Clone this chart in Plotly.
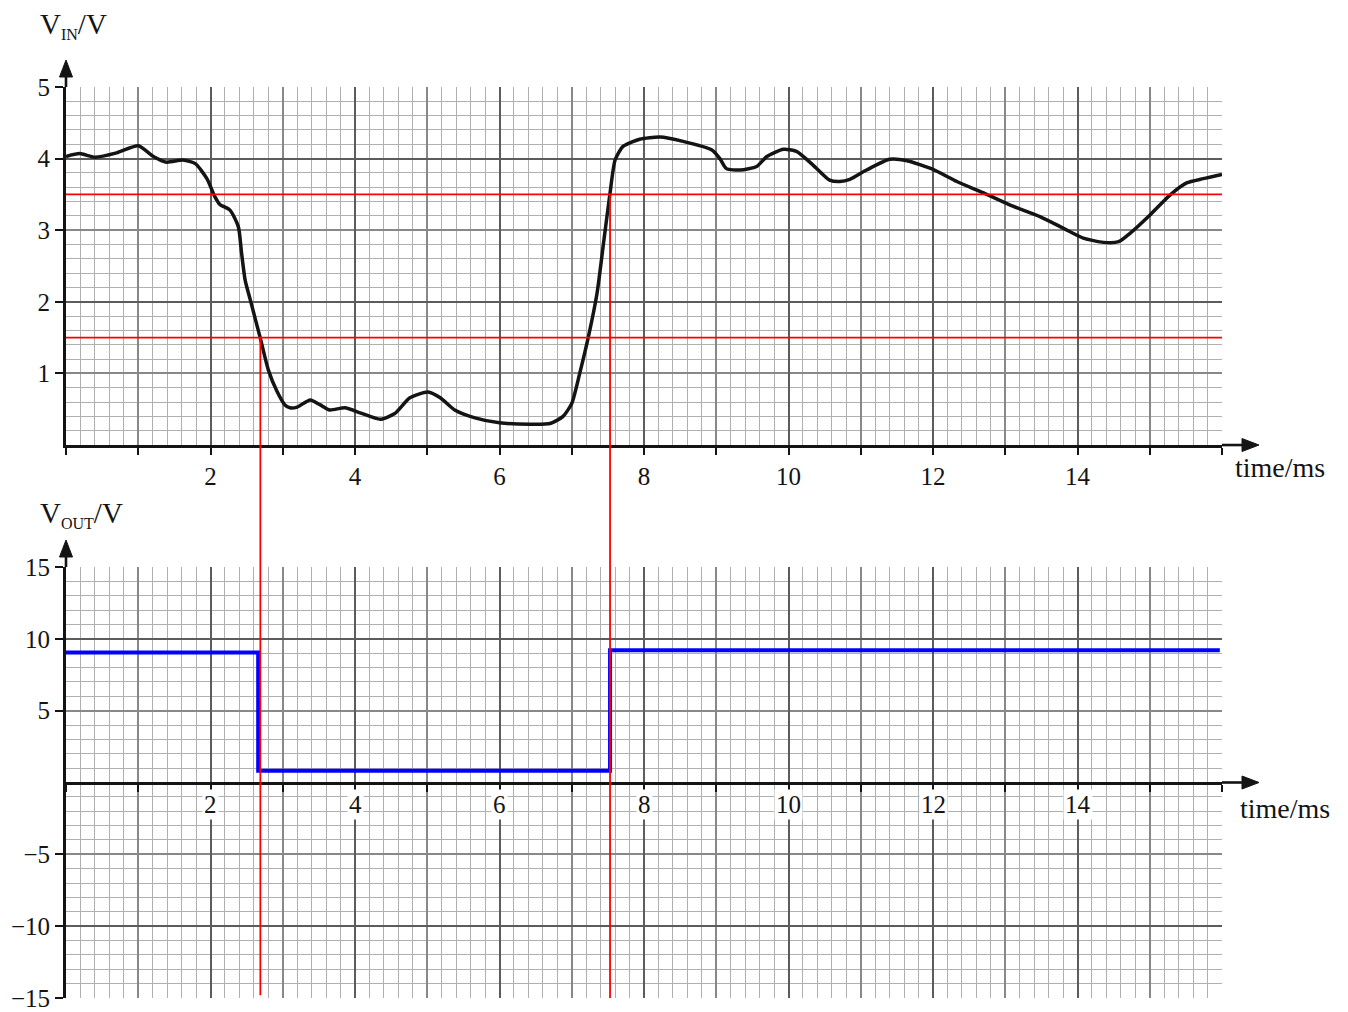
import plotly.graph_objects as go

# ---------------- data ----------------
t_in = [0, 0.19, 0.40, 0.70, 1.00, 1.21, 1.39, 1.62, 1.79, 1.95, 2.06, 2.13, 2.27, 2.385,
        2.43, 2.48, 2.55, 2.685, 2.80, 2.92, 3.03, 3.10, 3.20, 3.38, 3.52, 3.65, 3.86, 4.07,
        4.35, 4.55, 4.76, 5.01, 5.18, 5.38, 5.66, 6.00, 6.42, 6.70, 6.88, 7.00, 7.11, 7.23,
        7.35, 7.44, 7.53, 7.60, 7.71, 7.94, 8.22, 8.54, 8.94, 9.05, 9.14, 9.33, 9.56, 9.70,
        9.93, 10.11, 10.34, 10.57, 10.71, 10.85, 11.08, 11.40, 11.64, 12.00, 12.33, 12.70,
        13.07, 13.48, 13.80, 14.08, 14.36, 14.57, 14.73, 15.00, 15.28, 15.51, 15.74, 16.00]
v_in = [4.03, 4.07, 4.02, 4.08, 4.18, 4.03, 3.95, 3.98, 3.93, 3.72, 3.47, 3.36, 3.28, 3.05,
        2.68, 2.30, 2.03, 1.51, 1.05, 0.75, 0.56, 0.52, 0.53, 0.63, 0.56, 0.49, 0.52, 0.45,
        0.36, 0.44, 0.66, 0.74, 0.66, 0.49, 0.38, 0.31, 0.29, 0.30, 0.40, 0.58, 1.00, 1.51,
        2.12, 2.82, 3.52, 3.98, 4.17, 4.27, 4.30, 4.24, 4.12, 4.00, 3.86, 3.84, 3.89, 4.03,
        4.13, 4.10, 3.91, 3.70, 3.68, 3.71, 3.84, 3.99, 3.97, 3.85, 3.68, 3.52,
        3.35, 3.19, 3.03, 2.89, 2.83, 2.84, 2.96, 3.21, 3.49, 3.66, 3.72, 3.78]

t_out = [0, 2.66, 7.53, 15.97]
v_out = [9.05, 0.82, 9.2, 9.2]

thresholds = [3.5, 1.5]          # red horizontal lines (V)
threshold_span = [0, 16]         # ms
switch_times = [2.69, 7.53]      # red vertical lines (ms)
switch_top = [1.5, 3.5]          # top end of each red vertical (VIN, V)
switch_bottom = [-14.8, -15.0]   # bottom end of each red vertical (VOUT, V)

x_range = [0, 16]
vin_range = [0, 5]
vout_range = [-15, 15]
x_ticks = list(range(0, 17))
x_labels = [str(v) if (v % 2 == 0 and 0 < v < 16) else "" for v in x_ticks]
vin_ticks = [1, 2, 3, 4, 5]
vout_ticks = [-15, -10, -5, 5, 10, 15]
vout_labels = ["\u221215", "\u221210", "\u22125", "5", "10", "15"]

# ---------------- layout constants ----------------
W, H = 1348, 1012
ML, MR, MT, MB = 66, 126, 87, 14
top_dom = [0.607, 1.0]
bot_dom = [0.0, 0.4731]
PLOT_W, PLOT_H = W - ML - MR, H - MT - MB
PLOT_BOTTOM = H - MB
TOP_H = (top_dom[1] - top_dom[0]) * PLOT_H
BOT_H = (bot_dom[1] - bot_dom[0]) * PLOT_H

SERIF = "Liberation Serif, Times New Roman, serif"
MINOR = "#b0b0b0"
MED = "#888888"
DARK = "#5c5c5c"
INK = "#141414"


def to_paper(v, dom, rng):
    return dom[0] + (v - rng[0]) / (rng[1] - rng[0]) * (dom[1] - dom[0])


def frac(v, rng):
    return (v - rng[0]) / (rng[1] - rng[0])


def px_x(px):
    return (px - ML) / PLOT_W


def px_y(py):
    return (PLOT_BOTTOM - py) / PLOT_H


fig = go.Figure()

# VIN curve
fig.add_trace(go.Scatter(x=t_in, y=v_in, mode="lines", xaxis="x", yaxis="y",
                         line=dict(color=INK, width=3.5, shape="spline", smoothing=0.6),
                         showlegend=False, hoverinfo="skip"))
# thresholds
for th in thresholds:
    fig.add_trace(go.Scatter(x=threshold_span, y=[th, th], mode="lines", xaxis="x", yaxis="y",
                             line=dict(color="#ff0000", width=1.8),
                             showlegend=False, hoverinfo="skip"))
# VOUT
fig.add_trace(go.Scatter(x=t_out, y=v_out, mode="lines", xaxis="x2", yaxis="y2",
                         line=dict(color="#0000ff", width=4, shape="hv"),
                         showlegend=False, hoverinfo="skip"))
# invisible traces for overlay (dark grid) axes
fig.add_trace(go.Scatter(x=[None], y=[None], xaxis="x3", yaxis="y3", showlegend=False, hoverinfo="skip"))
fig.add_trace(go.Scatter(x=[None], y=[None], xaxis="x4", yaxis="y4", showlegend=False, hoverinfo="skip"))

# red vertical switching lines spanning both panels
for ts, vt, vb in zip(switch_times, switch_top, switch_bottom):
    fig.add_shape(type="line", xref="x", yref="paper", layer="above",
                  x0=ts, x1=ts,
                  y0=to_paper(vt, top_dom, vin_range),
                  y1=to_paper(vb, bot_dom, vout_range),
                  line=dict(color="#ff0000", width=1.8))

# axis arrows (shaft + triangular head), drawn as shapes
ARROW_EXT = 27      # px beyond plot edge for vertical axes
ARROW_EXT_X = 37    # px beyond plot edge for horizontal axes
HEAD_L, HEAD_W = 17, 6.5
for xr, yr, dom_h in (("x domain", "y domain", TOP_H), ("x2 domain", "y2 domain", BOT_H)):
    tip = 1 + ARROW_EXT / dom_h
    fig.add_shape(type="line", xref=xr, yref=yr, x0=0, x1=0, y0=1, y1=1 + (ARROW_EXT - 8) / dom_h,
                  line=dict(color=INK, width=2.6), layer="above")
    fig.add_shape(type="path", xref=xr, yref=yr, xsizemode="pixel", ysizemode="pixel",
                  xanchor=0, yanchor=tip,
                  path=f"M0,0 L{-HEAD_W},{-HEAD_L} L{HEAD_W},{-HEAD_L} Z",
                  fillcolor=INK, line=dict(color=INK, width=1), layer="above")
for xr, yr, yz in (("x domain", "y domain", frac(0, vin_range)), ("x2 domain", "y2 domain", frac(0, vout_range))):
    tip = 1 + ARROW_EXT_X / PLOT_W
    fig.add_shape(type="line", xref=xr, yref=yr, x0=1, x1=1 + (ARROW_EXT_X - 8) / PLOT_W, y0=yz, y1=yz,
                  line=dict(color=INK, width=2.6), layer="above")
    fig.add_shape(type="path", xref=xr, yref=yr, xsizemode="pixel", ysizemode="pixel",
                  xanchor=tip, yanchor=yz,
                  path=f"M0,0 L{-HEAD_L},{HEAD_W} L{-HEAD_L},{-HEAD_W} Z",
                  fillcolor=INK, line=dict(color=INK, width=1), layer="above")

tickfont = dict(family=SERIF, size=25, color=INK)

common_x = dict(range=x_range, showgrid=True, gridcolor=MED, gridwidth=1.6,
                zeroline=False, showline=True, linecolor=INK, linewidth=3,
                ticks="outside", ticklen=7, tickwidth=2, tickcolor=INK,
                tickmode="array", tickvals=x_ticks, automargin=False,
                minor=dict(dtick=0.2, tick0=0, showgrid=True, gridcolor=MINOR, gridwidth=1.3, ticks=""),
                tickfont=tickfont, fixedrange=True)

overlay_common = dict(showgrid=True, gridcolor=DARK, gridwidth=2, showticklabels=False, ticks="",
                      showline=False, zeroline=False, fixedrange=True, automargin=False, tick0=0)

vout_zero_pos = to_paper(0, bot_dom, vout_range)

fig.update_layout(
    width=W, height=H,
    margin=dict(l=ML, r=MR, t=MT, b=MB, autoexpand=False),
    paper_bgcolor="white", plot_bgcolor="white",
    showlegend=False,
    xaxis=dict(common_x, domain=[0, 1], anchor="y", ticktext=x_labels),
    yaxis=dict(range=vin_range, domain=top_dom, anchor="x", automargin=False,
               showgrid=True, gridcolor=MED, gridwidth=1.6, zeroline=False,
               showline=True, linecolor=INK, linewidth=3,
               ticks="outside", ticklen=8, tickwidth=2, tickcolor=INK,
               tickmode="array", tickvals=vin_ticks, ticktext=[str(v) for v in vin_ticks],
               minor=dict(dtick=0.2, tick0=0, showgrid=True, gridcolor=MINOR, gridwidth=1.3, ticks=""),
               tickfont=tickfont, fixedrange=True),
    xaxis2=dict(common_x, domain=[0, 1], anchor="free", position=vout_zero_pos,
                showticklabels=False, ticktext=[""] * len(x_ticks)),
    yaxis2=dict(range=vout_range, domain=bot_dom, anchor="x2", automargin=False,
                showgrid=True, gridcolor=MED, gridwidth=1.6, zeroline=False,
                showline=True, linecolor=INK, linewidth=3,
                ticks="outside", ticklen=8, tickwidth=2, tickcolor=INK,
                tickmode="array", tickvals=vout_ticks, ticktext=vout_labels,
                ticklabeloverflow="allow",
                minor=dict(dtick=1, tick0=0, showgrid=True, gridcolor=MINOR, gridwidth=1.3, ticks=""),
                tickfont=tickfont, fixedrange=True),
    # overlay axes carrying the darker grid lines
    xaxis3=dict(overlay_common, overlaying="x", anchor="y3", range=x_range, dtick=2),
    yaxis3=dict(overlay_common, overlaying="y", anchor="x3", range=vin_range, dtick=2),
    xaxis4=dict(overlay_common, overlaying="x2", anchor="y4", range=x_range, dtick=2),
    yaxis4=dict(overlay_common, overlaying="y2", anchor="x4", range=vout_range, dtick=10),
)

ann = []
labfont = dict(family=SERIF, size=29, color=INK)
# axis titles
ann.append(dict(xref="paper", yref="paper", x=px_x(38), y=px_y(26), xanchor="left", yanchor="middle",
                text='V<sub><span style="font-size:16px">IN</span></sub>/V',
                showarrow=False, font=labfont))
ann.append(dict(xref="paper", yref="paper", x=px_x(38), y=px_y(514), xanchor="left", yanchor="middle",
                text='V<sub><span style="font-size:16px">OUT</span></sub>/V',
                showarrow=False, font=labfont))
ann.append(dict(xref="paper", yref="paper", x=px_x(1280), y=px_y(468), xanchor="center", yanchor="middle",
                text="time/ms", showarrow=False, font=dict(family=SERIF, size=28, color=INK)))
ann.append(dict(xref="paper", yref="paper", x=px_x(1285), y=px_y(808), xanchor="center", yanchor="middle",
                text="time/ms", showarrow=False, font=dict(family=SERIF, size=28, color=INK)))
# bottom panel time labels (sit on the grid with a white backing)
for v, lab in zip(x_ticks, x_labels):
    if lab:
        ann.append(dict(xref="x2", yref="y2", x=v, y=0, yshift=-22, text=lab, showarrow=False,
                        bgcolor="white", borderpad=1, font=tickfont))
fig.update_layout(annotations=ann)

# remove the default 8px page margin so the figure fills the window exactly
fig.write_html("out.html", config={"displayModeBar": False},
               post_script="document.body.style.margin='0';")
